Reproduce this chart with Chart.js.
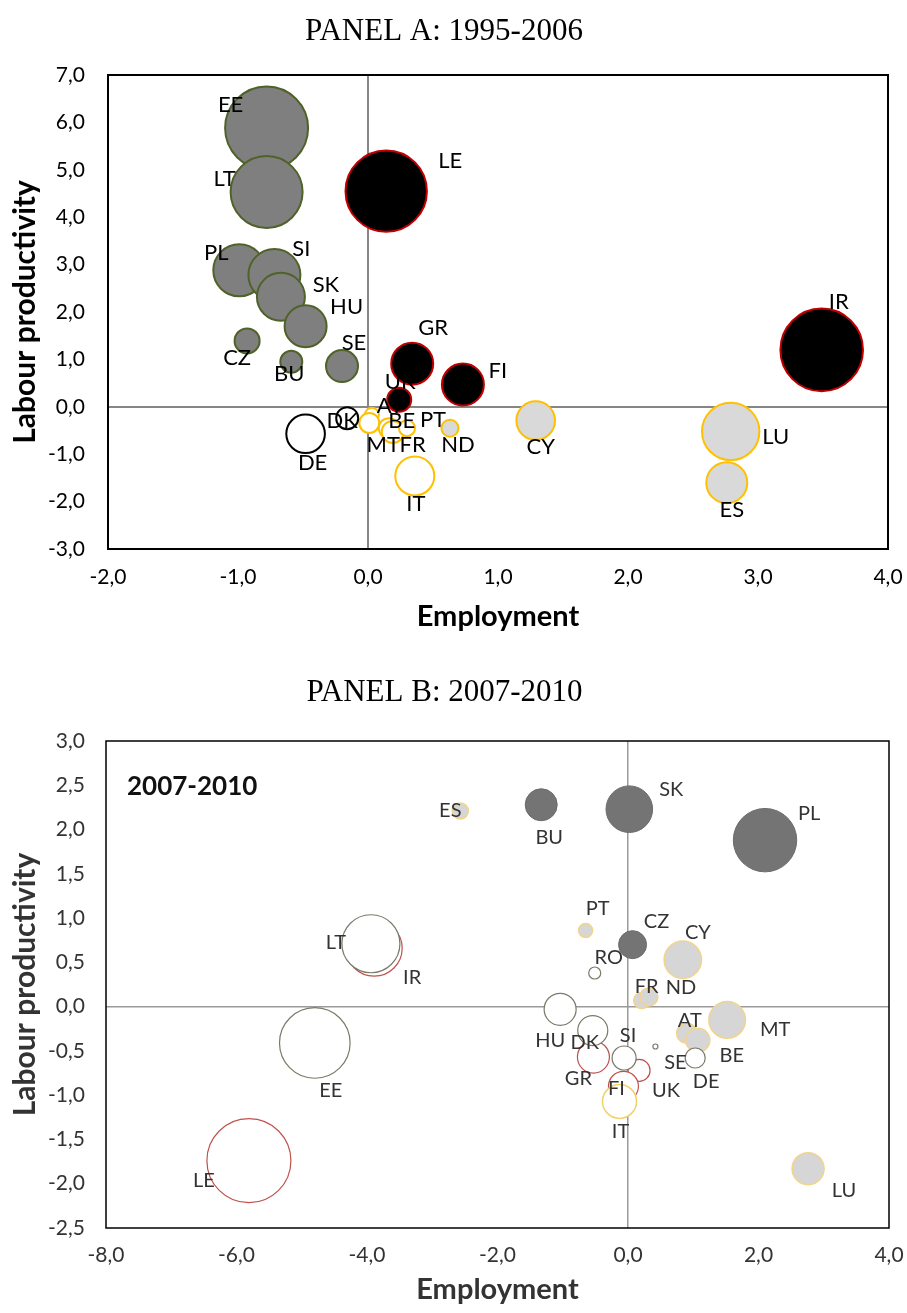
<!DOCTYPE html>
<html>
<head>
<meta charset="utf-8">
<script src="https://cdn.jsdelivr.net/npm/chart.js@4.4.0/dist/chart.umd.min.js"></script>
<style>
  body { margin: 0; background: #fff; }
  #wrap { position: relative; width: 907px; height: 1313px; overflow: hidden; }
  canvas { position: absolute; left: 0; }
  #panelA { top: 0; }
  #panelB { top: 650px; }
</style>
</head>
<body>
<div id="wrap">
  <canvas id="panelA" width="907" height="640"></canvas>
  <canvas id="panelB" width="907" height="663"></canvas>
</div>
<script>
// ---- Panel A: 1995-2006 ----
const countriesA    = ['EE', 'LT', 'PL', 'SI', 'SK', 'HU', 'CZ', 'BU', 'SE',
                       'LE', 'GR', 'FI', 'UK', 'IR',
                       'CY', 'LU', 'ES', 'ND',
                       'AT', 'MT', 'BE', 'FR', 'PT', 'IT',
                       'DK', 'DE'];
const employmentA   = [-0.78, -0.78, -0.99, -0.72, -0.67, -0.48, -0.93, -0.59, -0.20,
                        0.14, 0.34, 0.73, 0.24, 3.49,
                        1.29, 2.79, 2.76, 0.63,
                        0.03, 0.01, 0.16, 0.19, 0.30, 0.36,
                       -0.16, -0.48];
const productivityA = [5.88, 4.53, 2.88, 2.78, 2.32, 1.70, 1.39, 0.95, 0.86,
                       4.55, 0.91, 0.47, 0.15, 1.20,
                       -0.29, -0.52, -1.60, -0.45,
                       -0.17, -0.34, -0.45, -0.53, -0.45, -1.46,
                       -0.24, -0.57];
const bubbleSizeA   = [41.5, 36, 26, 26, 24, 21, 12.5, 11, 16,
                       40.7, 21, 21, 12, 41.3,
                       19.3, 28.7, 20.5, 8.5,
                       7, 10, 10, 11, 8, 19.5,
                       11, 19.3];
const groupA        = [1, 1, 1, 1, 1, 1, 1, 1, 1,
                       2, 2, 2, 2, 2,
                       3, 3, 3, 3,
                       4, 4, 4, 4, 4, 4,
                       5, 5];
const xTicksA = { min: -2, max: 4, step: 1 };
const yTicksA = { min: -3, max: 7, step: 1 };

// ---- Panel B: 2007-2010 ----
const countriesB    = ['BU', 'SK', 'PL', 'CZ',
                       'ES', 'PT', 'CY', 'FR', 'ND', 'MT', 'AT', 'BE', 'LU',
                       'LT', 'EE', 'HU', 'DK', 'SI', 'DE', 'RO', 'SE',
                       'IR', 'LE', 'GR', 'UK', 'FI',
                       'IT'];
const employmentB   = [-1.33, 0.02, 2.10, 0.07,
                       -2.57, -0.65, 0.84, 0.21, 0.32, 1.52, 0.90, 1.07, 2.76,
                       -3.94, -4.80, -1.04, -0.54, -0.06, 1.03, -0.51, 0.42,
                       -3.89, -5.81, -0.53, 0.17, -0.07,
                       -0.13];
const productivityB = [2.28, 2.23, 1.88, 0.70,
                       2.21, 0.86, 0.53, 0.07, 0.11, -0.15, -0.30, -0.38, -1.83,
                       0.71, -0.41, -0.03, -0.27, -0.58, -0.58, 0.38, -0.45,
                       0.66, -1.74, -0.57, -0.72, -0.90,
                       -1.07];
const bubbleSizeB   = [16, 23.3, 31.7, 14,
                       8, 7, 18.7, 8, 9, 18.3, 10, 12, 16,
                       29, 35.3, 16, 15, 12, 10, 6, 2.5,
                       28, 42, 16, 11, 15,
                       17];
const groupB        = [1, 1, 1, 1,
                       3, 3, 3, 3, 3, 3, 3, 3, 3,
                       5, 5, 5, 5, 5, 5, 5, 5,
                       2, 2, 2, 2, 2,
                       4];
const xTicksB = { min: -8, max: 4, step: 2 };
const yTicksB = { min: -2.5, max: 3, step: 0.5 };

// label placement (pixel offset from bubble centre)
const labelOffsetA = [[-36, -23], [-42, -13], [-23, -17], [27, -26], [45, -12], [41, -19], [-10, 17], [-2, 12], [12, -23],
                      [64, -30], [21, -36], [35, -14], [1, -18], [17, -48],
                      [5, 26], [45, 5], [5, 27], [8, 17],
                      [18, -9], [14, 22], [13, -7], [20, 13], [26, -8], [1, 28],
                      [-5, 3], [7, 29]];
const labelOffsetB = [[8, 33], [42, -20], [44, -27], [24, -23],
                      [-10, 0], [12, -22], [15, -27], [5, -14], [32, -9], [48, 10], [3, -13], [34, 15], [36, 22],
                      [-35, -1], [16, 48], [-10, 31], [-8, 12], [4, -22], [11, 24], [14, -15], [20, 16],
                      [38, 29], [-45, 20], [-15, 21], [27, 20], [-7, 2],
                      [1, 30]];

const stylesA = {
  1: { fill: '#7f7f7f', line: '#4f6228', width: 2 },
  2: { fill: '#000000', line: '#c00000', width: 2 },
  3: { fill: '#d9d9d9', line: '#ffc000', width: 2 },
  4: { fill: '#ffffff', line: '#ffc000', width: 2 },
  5: { fill: '#ffffff', line: '#000000', width: 2 }
};
const stylesB = {
  1: { fill: '#747474', line: '#6b6b6b', width: 1 },
  2: { fill: '#ffffff', line: '#c0504d', width: 1.2 },
  3: { fill: '#d6d6d6', line: '#f2d48a', width: 1.5 },
  4: { fill: '#ffffff', line: '#f2d06a', width: 1.5 },
  5: { fill: '#ffffff', line: '#7a7a6a', width: 1.2 }
};

const fmt = v => v.toFixed(1).replace('.', ',');
const isZero = v => Math.abs(v) < 1e-9;

function buildDatasets(codes, xs, ys, rs, groups, offsets, styles) {
  return Object.keys(styles).map(g => {
    const idx = codes.map((_, i) => i).filter(i => groups[i] === +g);
    return {
      label: 'group ' + g,
      data: idx.map(i => ({ x: xs[i], y: ys[i], r: rs[i] })),
      names: idx.map(i => codes[i]),
      offsets: idx.map(i => offsets[i]),
      backgroundColor: styles[g].fill,
      borderColor: styles[g].line,
      borderWidth: styles[g].width,
      hoverBorderWidth: styles[g].width
    };
  }).reverse(); // first dataset is painted last
}

const pointLabels = {
  id: 'pointLabels',
  afterDatasetsDraw(chart, args, opts) {
    const ctx = chart.ctx;
    ctx.save();
    ctx.font = opts.font;
    ctx.fillStyle = opts.color;
    ctx.textAlign = 'center';
    ctx.textBaseline = 'middle';
    chart.data.datasets.forEach((ds, di) => {
      chart.getDatasetMeta(di).data.forEach((pt, i) => {
        const [dx, dy] = ds.offsets[i];
        ctx.fillText(ds.names[i], pt.x + dx, pt.y + dy);
      });
    });
    ctx.restore();
  }
};

const plotFrame = {
  id: 'plotFrame',
  afterDraw(chart, args, opts) {
    const { ctx, chartArea: a } = chart;
    ctx.save();
    ctx.strokeStyle = '#000';
    ctx.lineWidth = opts.width;
    ctx.strokeRect(a.left, a.top, a.right - a.left, a.bottom - a.top);
    if (opts.note) {
      ctx.font = 'bold 26px Lato';
      ctx.fillStyle = '#111';
      ctx.textAlign = 'left';
      ctx.textBaseline = 'middle';
      ctx.fillText(opts.note, a.left + 21, a.top + 46);
    }
    ctx.restore();
  }
};

function makeScales(xr, yr, s) {
  const zeroGrid = {
    drawTicks: false,
    color: c => isZero(c.tick.value) ? s.zeroColor : 'rgba(0,0,0,0)',
    lineWidth: s.zeroWidth
  };
  return {
    x: {
      type: 'linear', min: xr.min, max: xr.max,
      ticks: { stepSize: xr.step, padding: s.xTickPad, color: s.text, font: { family: 'Lato', size: 21 }, callback: fmt },
      grid: zeroGrid,
      border: { display: false },
      title: { display: true, text: 'Employment', color: s.text,
               font: { family: 'Lato', size: 29, weight: 'bold' }, padding: { top: 0, bottom: 5.6 } },
      afterFit: sc => { sc.height = s.xHeight; sc.paddingLeft = 0; sc.paddingRight = 0; }
    },
    y: {
      type: 'linear', min: yr.min, max: yr.max,
      ticks: { stepSize: yr.step, padding: s.yTickPad, color: s.text, font: { family: 'Lato', size: 21 }, callback: fmt },
      grid: zeroGrid,
      border: { display: false },
      title: { display: true, text: 'Labour productivity', color: s.text,
               font: { family: 'Lato', size: 30, weight: 'bold' }, padding: { top: 7, bottom: 0 } },
      afterFit: sc => { sc.width = s.yWidth; sc.paddingTop = 0; sc.paddingBottom = 0; }
    }
  };
}

function makeChart(id, title, titlePad, datasets, scales, rightPad, labelFont, labelColor, frameWidth, note) {
  return new Chart(document.getElementById(id), {
    type: 'bubble',
    data: { datasets },
    options: {
      responsive: false,
      animation: false,
      events: [],
      layout: { autoPadding: false, padding: { left: 0, right: rightPad, top: 0, bottom: 0 } },
      scales,
      plugins: {
        legend: { display: false },
        tooltip: { enabled: false },
        title: { display: true, text: title, color: '#000',
                 font: { family: 'Liberation Serif', size: 31, weight: 'normal' }, padding: titlePad },
        pointLabels: { font: labelFont, color: labelColor },
        plotFrame: { width: frameWidth, note }
      }
    },
    plugins: [pointLabels, plotFrame]
  });
}

makeChart('panelA', 'PANEL A: 1995-2006', { top: 13.4, bottom: 24.4 },
  buildDatasets(countriesA, employmentA, productivityA, bubbleSizeA, groupA, labelOffsetA, stylesA),
  makeScales(xTicksA, yTicksA, { zeroColor: '#868686', zeroWidth: 2, text: '#000', xTickPad: 15.4, yTickPad: 23, xHeight: 91, yWidth: 108 }),
  19, '22px Lato', '#000', 2, null);

makeChart('panelB', 'PANEL B: 2007-2010', { top: 24.4, bottom: 29.4 },
  buildDatasets(countriesB, employmentB, productivityB, bubbleSizeB, groupB, labelOffsetB, stylesB),
  makeScales(xTicksB, yTicksB, { zeroColor: '#9a9a9a', zeroWidth: 1.5, text: '#333', xTickPad: 14.4, yTickPad: 21, xHeight: 85, yWidth: 106 }),
  18, '20px Lato', '#333', 1.5, '2007-2010');
</script>
</body>
</html>
